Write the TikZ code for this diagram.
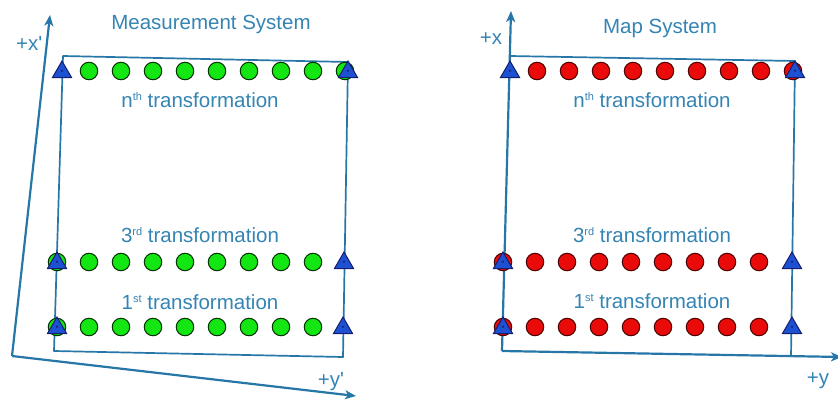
\documentclass[tikz,border=0pt]{standalone}
\usepackage{fontspec}
\setmainfont{Liberation Sans}
\usetikzlibrary{shapes.geometric,arrows.meta}
\definecolor{axisblue}{RGB}{38,118,168}
\definecolor{textblue}{RGB}{52,132,180}
\definecolor{ptgreen}{RGB}{20,230,20}
\definecolor{ptred}{RGB}{235,10,10}
\definecolor{triblue}{RGB}{30,80,210}
\definecolor{tririm}{RGB}{20,30,110}
% small raised ordinal suffix
\newcommand{\ordsuf}[1]{\raisebox{0.62ex}{\fontsize{11}{11}\selectfont #1}}
\tikzset{
  axisline/.style={draw=axisblue, line width=2.2pt, -{Stealth[length=11pt,width=9pt,inset=3pt]}},
  boxline/.style={draw=axisblue, line width=1.7pt, line join=round},
  lbl/.style={text=textblue, font=\fontsize{20.5}{23}\selectfont, inner sep=0pt, anchor=base},
  gdot/.style={circle, draw=black!80!green, fill=ptgreen, line width=1pt, minimum size=17.5pt, inner sep=0pt},
  rdot/.style={circle, draw=black!70!red, fill=ptred, line width=1pt, minimum size=17.5pt, inner sep=0pt},
  tri/.style={regular polygon, regular polygon sides=3, draw=tririm, fill=triblue, line width=1pt,
    minimum size=22pt, inner sep=0pt,
    path picture={\fill[tririm] (path picture bounding box.center) ++(0,-1.5pt) circle (1.1pt);}},
}
\begin{document}
\begin{tikzpicture}[x=1pt, y=-1pt]
\useasboundingbox (0,0) rectangle (838,399);

% ---------- measurement system (left) ----------
\coordinate (LO) at (12,356);
\coordinate (LX) at (50,15);
\coordinate (LY) at (356,396);
\coordinate (LB1) at (63,56);
\coordinate (LB2) at (348,62);
\coordinate (LB3) at (343,357);
\coordinate (LB4) at (54,351);
\draw[boxline] (LB1) -- (LB2) -- (LB3) -- (LB4) -- cycle;
\draw[axisline] (LO) -- (LX);
\draw[axisline] (LO) -- (LY);

\node[lbl] (ltitle) at (211,29) {Measurement System};
\node[lbl] (ln) at (200,107) {n\ordsuf{th} transformation};
\node[lbl] (l3) at (200,242) {3\ordsuf{rd} transformation};
\node[lbl] (l1) at (200,309) {1\ordsuf{st} transformation};
\node[lbl, anchor=base west] (lxlab) at (16,50) {+x\textquotesingle};
\node[lbl] (lylab) at (331,386) {+y\textquotesingle};

\foreach \i in {0,...,8} {
  \node[gdot] (gn\i) at ({89+32*\i},71) {};
  \node[gdot] (g3\i) at ({57+32*\i},262) {};
  \node[gdot] (g1\i) at ({57+32*\i},327) {};
}
\node[tri] (ltn1) at (62,72) {};
\node[tri] (ltn2) at (348,72) {};
\node[tri] (lt31) at (57,263) {};
\node[tri] (lt32) at (344,263) {};
\node[tri] (lt11) at (57,328) {};
\node[tri] (lt12) at (343,328) {};

% ---------- map system (right) ----------
\coordinate (RO) at (502,351);
\coordinate (RX) at (511,11);
\coordinate (RY) at (842,357);
\coordinate (RB1) at (510,56);
\coordinate (RB2) at (795,61);
\coordinate (RB3) at (791,357);
\draw[boxline] (RB1) -- (RB2) -- (RB3);
\draw[axisline] (RO) -- (RX);
\draw[axisline] (RO) -- (RY);

\node[lbl] (rtitle) at (660,33) {Map System};
\node[lbl] (rn) at (652,107) {n\ordsuf{th} transformation};
\node[lbl] (r3) at (652,242) {3\ordsuf{rd} transformation};
\node[lbl] (r1) at (652,308) {1\ordsuf{st} transformation};
\node[lbl] (rxlab) at (491,44) {+x};
\node[lbl] (rylab) at (818,384) {+y};

\foreach \i in {0,...,8} {
  \node[rdot] (rn\i) at ({537+32*\i},71) {};
  \node[rdot] (r3\i) at ({503+32*\i},262) {};
  \node[rdot] (r1\i) at ({503+32*\i},327) {};
}
\node[tri] (rtn1) at (510,72) {};
\node[tri] (rtn2) at (795,72) {};
\node[tri] (rt31) at (503,263) {};
\node[tri] (rt32) at (792,263) {};
\node[tri] (rt11) at (503,328) {};
\node[tri] (rt12) at (792,328) {};
\end{tikzpicture}
\end{document}
